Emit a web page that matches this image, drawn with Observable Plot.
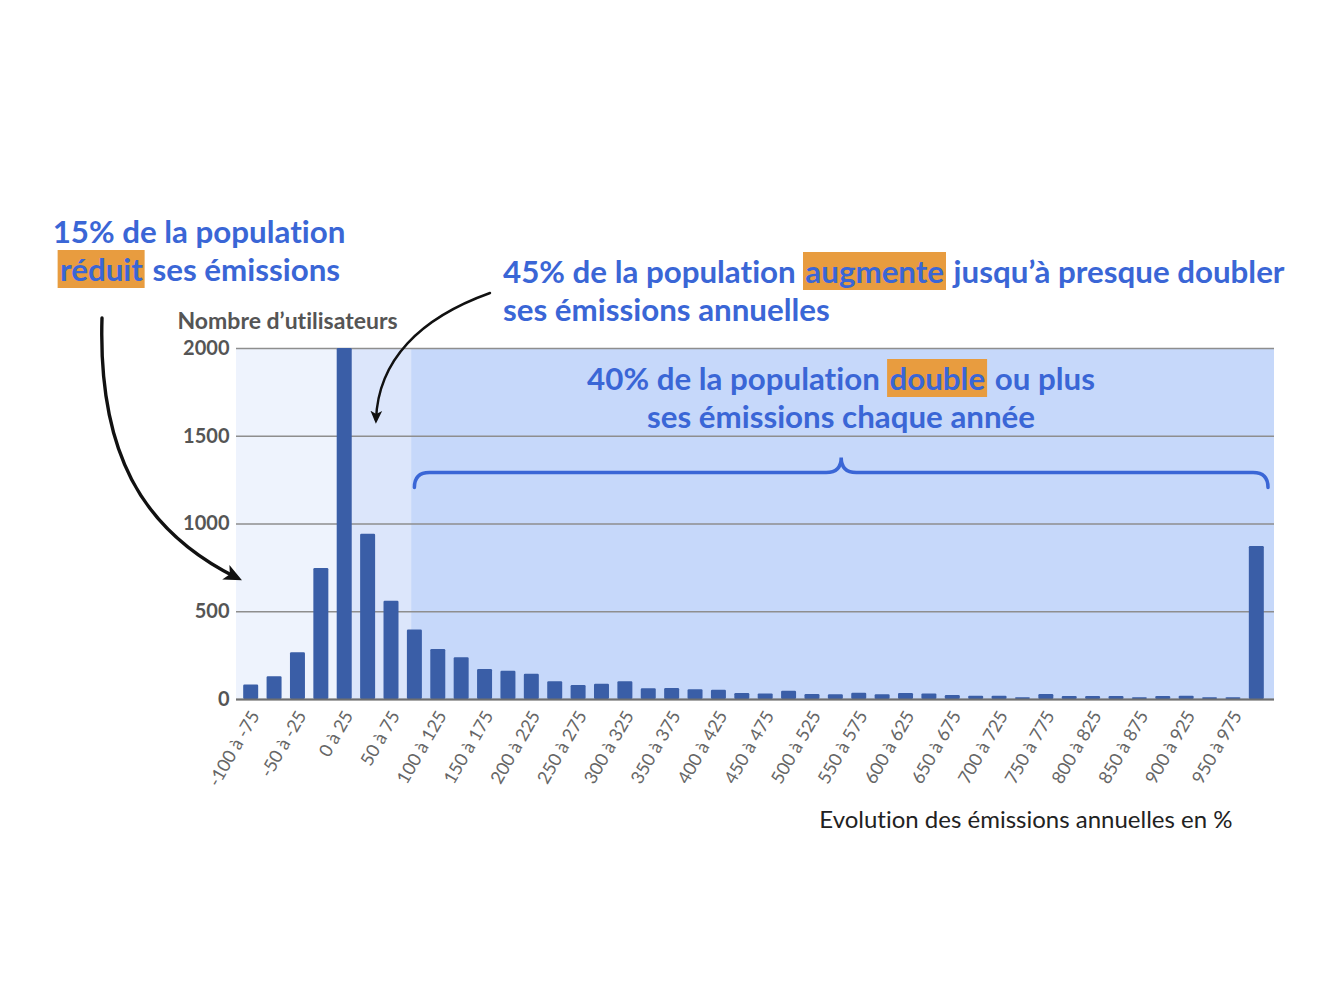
<!DOCTYPE html>
<html>
<head>
<meta charset="utf-8">
<script src="https://cdn.jsdelivr.net/npm/d3@7"></script>
<script src="https://cdn.jsdelivr.net/npm/@observablehq/plot@0.6"></script>
<style>
  body { margin: 0; background: #fff; font-family: Lato, "Open Sans", sans-serif; }
  #wrap { position: relative; width: 1340px; height: 992px; }
  #wrap, #wrap svg text { font-variant-ligatures: none; font-feature-settings: "liga" 0, "clig" 0; }
  .note { position: absolute; color: #3a66d6; font-weight: 700; font-size: 31.3px; line-height: 38px; white-space: nowrap; }
  .note mark { display: inline-block; background: #e89c3f; color: inherit; padding: 0 2px; line-height: 38px; }
  .center { transform: translateX(-50%); text-align: center; }
</style>
</head>
<body>
<div id="wrap"></div>
<script>
// Lower edge of each 25-point bin of annual emission change (%)
const binStarts = [-100, -75, -50, -25, 0, 25, 50, 75, 100, 125, 150, 175, 200, 225, 250, 275,
  300, 325, 350, 375, 400, 425, 450, 475, 500, 525, 550, 575, 600, 625, 650, 675, 700, 725,
  750, 775, 800, 825, 850, 875, 900, 925, 950, 975];
// Number of users in each bin
const userCounts = [82, 130, 266, 746, 2000, 942, 560, 396, 285, 238, 171, 161, 144, 101, 80, 87,
  101, 61, 63, 55, 53, 34, 32, 47, 28, 27, 36, 27, 34, 32, 23, 19, 19, 10,
  28, 17, 17, 17, 10, 17, 19, 10, 10, 872];
// Labelled bins (every other one)
const tickStarts = [-100, -50, 0, 50, 100, 150, 200, 250, 300, 350, 400, 450, 500, 550, 600, 650,
  700, 750, 800, 850, 900, 950];
const tickLabels = ["-100 à -75", "-50 à -25", "0 à 25", "50 à 75", "100 à 125", "150 à 175",
  "200 à 225", "250 à 275", "300 à 325", "350 à 375", "400 à 425", "450 à 475", "500 à 525",
  "550 à 575", "600 à 625", "650 à 675", "700 à 725", "750 à 775", "800 à 825", "850 à 875",
  "900 à 925", "950 à 975"];
const yTicks = [0, 500, 1000, 1500, 2000];
// Groups of the population: shrinking, growing (< x2), doubling or more
const zoneEdges = [-103.2, 4, 84, 1006.4];

const binWidth = 25;
const bins = binStarts.map((lo, i) => ({lo, hi: lo + binWidth, n: userCounts[i]}));
const tickCenters = tickStarts.map(s => s + binWidth / 2);

const blue = "#3a66d6";
const zoneFills = ["#eef3fd", "#dce6fb", "#c6d8fa"];

const chart = Plot.plot({
  width: 1340,
  height: 992,
  marginLeft: 236,
  marginRight: 66,
  marginTop: 348,
  marginBottom: 293,
  x: {domain: [zoneEdges[0], zoneEdges[3]]},
  y: {domain: [0, 2000]},
  style: {fontFamily: "Lato, 'Open Sans', sans-serif", background: "transparent", overflow: "visible"},
  marks: [
    Plot.rect([0], {x1: zoneEdges[0], x2: zoneEdges[1], y1: 0, y2: 2000, fill: zoneFills[0]}),
    Plot.rect([0], {x1: zoneEdges[1], x2: zoneEdges[2], y1: 0, y2: 2000, fill: zoneFills[1]}),
    Plot.rect([0], {x1: zoneEdges[2], x2: zoneEdges[3], y1: 0, y2: 2000, fill: zoneFills[2]}),
    Plot.gridY(yTicks, {stroke: "#8e8e8e", strokeOpacity: 1, strokeWidth: 1.6}),
    Plot.rectY(bins, {x1: "lo", x2: "hi", y: "n", fill: "#3a5ea7", insetLeft: 4.2, insetRight: 4.2, rx: 1.2}),
    Plot.ruleY([0], {stroke: "#6f6f6f", strokeWidth: 1.8}),
    Plot.axisY({ticks: yTicks, tickFormat: d => String(d), tickSize: 0, tickPadding: 7, fontSize: 20,
      fontWeight: 700, fill: "#555", label: null}),
    Plot.axisX({ticks: tickCenters, tickFormat: (d, i) => tickLabels[i], tickSize: 0, tickPadding: 13,
      tickRotate: -60, fontSize: 18, fill: "#666", label: null, dx: 4}),
    Plot.text(["Nombre d’utilisateurs"], {frameAnchor: "top-left", dx: -59, dy: -27, text: d => d,
      textAnchor: "start", lineAnchor: "middle", fontSize: 23, fontWeight: 700, fill: "#555"}),
    Plot.text(["Evolution des émissions annuelles en %"], {frameAnchor: "bottom-right", dx: -42, dy: 121,
      text: d => d, textAnchor: "end", lineAnchor: "middle", fontSize: 24, fill: "#222"})
  ]
});

const wrap = document.getElementById("wrap");
wrap.appendChild(chart);

const sx = chart.scale("x");
const sy = chart.scale("y");
const svg = d3.select(chart);

// Curly brace over the "doubles or more" bins
const bx0 = sx.apply(75 + binWidth / 2), bx1 = sx.apply(1000);
const by = sy.apply(1290), bm = (bx0 + bx1) / 2, r = 15;
svg.append("path")
  .attr("d", `M${bx0},${by + r} Q${bx0},${by} ${bx0 + r},${by} L${bm - r},${by} Q${bm},${by} ${bm},${by - r}`
    + ` Q${bm},${by} ${bm + r},${by} L${bx1 - r},${by} Q${bx1},${by} ${bx1},${by + r}`)
  .attr("fill", "none").attr("stroke", blue).attr("stroke-width", 3.5).attr("stroke-linecap", "round");

// Hand-drawn style arrows
const defs = svg.append("defs");
defs.append("marker").attr("id", "head").attr("viewBox", "0 0 10 10").attr("refX", 7).attr("refY", 5)
  .attr("markerUnits", "userSpaceOnUse").attr("markerWidth", 18).attr("markerHeight", 18)
  .attr("orient", "auto-start-reverse")
  .append("path").attr("d", "M0,0.5 L10,5 L0,9.5 L2.5,5 Z").attr("fill", "#111");
defs.append("marker").attr("id", "headSmall").attr("viewBox", "0 0 10 10").attr("refX", 7).attr("refY", 5)
  .attr("markerUnits", "userSpaceOnUse").attr("markerWidth", 13).attr("markerHeight", 13)
  .attr("orient", "auto-start-reverse")
  .append("path").attr("d", "M0,0.5 L10,5 L0,9.5 L2.5,5 Z").attr("fill", "#111");
svg.append("path")
  .attr("d", `M102,318 C98,450 140,530 ${sx.apply(-102)},${sy.apply(690)}`)
  .attr("fill", "none").attr("stroke", "#111").attr("stroke-width", 3.4).attr("stroke-linecap", "round")
  .attr("marker-end", "url(#head)");
svg.append("path")
  .attr("d", `M490,293 C420,318 378,360 376,${sy.apply(1590)}`)
  .attr("fill", "none").attr("stroke", "#111").attr("stroke-width", 2.4).attr("stroke-linecap", "round")
  .attr("marker-end", "url(#headSmall)");

// Text annotations
function note(html, style, cls) {
  const d = document.createElement("div");
  d.className = "note" + (cls ? " " + cls : "");
  Object.assign(d.style, style);
  d.innerHTML = html;
  wrap.appendChild(d);
}
note("15% de la population<br><mark>réduit</mark> ses émissions", {left: "199px", top: "212px"}, "center");
note("45% de la population <mark>augmente</mark> jusqu’à presque doubler<br>ses émissions annuelles", {left: "503px", top: "252px"});
note("40% de la population <mark>double</mark> ou plus<br>ses émissions chaque année", {left: "841px", top: "359px"}, "center");
</script>
</body>
</html>
